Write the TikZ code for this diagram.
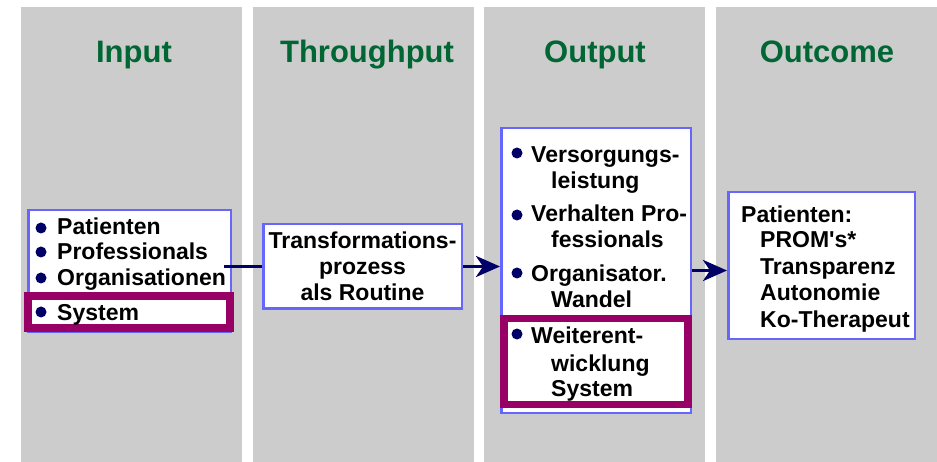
\documentclass[tikz,border=0pt]{standalone}
\usepackage{fontspec}
\setmainfont{Liberation Sans}
\usetikzlibrary{arrows.meta}
\definecolor{colgray}{HTML}{CCCCCC}
\definecolor{titlegreen}{HTML}{006633}
\definecolor{boxblue}{HTML}{6666FF}
\definecolor{hilite}{HTML}{990066}
\definecolor{navy}{HTML}{000066}
\tikzset{
  col/.style={fill=colgray, inner sep=0pt, minimum width=221pt, minimum height=455pt},
  ttl/.style={anchor=base, inner sep=0pt, text=titlegreen, font=\fontsize{31}{31}\selectfont\bfseries},
  bluebox/.style={draw=boxblue, line width=2.5pt, fill=white, inner sep=0pt},
  purplebox/.style={draw=hilite, line width=8pt, inner sep=0pt},
  txt/.style={anchor=base west, inner sep=0pt, font=\fontsize{23}{26}\selectfont\bfseries},
  conn/.style={draw=navy, line width=3.5pt},
  bul/.style={fill=navy, circle, inner sep=0pt, minimum size=11pt}
}
\begin{document}
\begin{tikzpicture}[x=1pt,y=-1pt]
\useasboundingbox (0,0) rectangle (937,462);
% columns
\node[col] (c1) at (131.5,234.5) {};
\node[col] (c2) at (363.5,234.5) {};
\node[col] (c3) at (594.5,234.5) {};
\node[col] (c4) at (826.5,234.5) {};
% titles
\node[ttl] (t1) at (134,63) {Input};
\node[ttl] (t2) at (367,63) {Throughput};
\node[ttl] (t3) at (595,63) {Output};
\node[ttl] (t4) at (827,63) {Outcome};
% boxes
\node[bluebox, minimum width=202.5pt, minimum height=121.5pt] (inbox) at (129.5,271) {};
\node[purplebox, minimum width=202pt, minimum height=32pt] (insys) at (129,312) {};
\node[bluebox, minimum width=198.5pt, minimum height=84.5pt, align=center,
      font=\fontsize{23}{26}\selectfont\bfseries] (tp) at (362.5,266.5)
      {Transformations-\\prozess\\als Routine};
\node[bluebox, minimum width=189.5pt, minimum height=284.5pt] (outbox) at (596,270.5) {};
\node[purplebox, line width=7.5pt, minimum width=184pt, minimum height=86pt] (outsys) at (596,361.5) {};
\node[bluebox, minimum width=186.5pt, minimum height=146.5pt] (outc) at (821.5,265.5) {};
% connectors
\draw[conn] ([xshift=-8pt]inbox.east |- tp.west) -- (tp.west);
\draw[conn, -{Stealth[length=24pt,width=21pt,inset=7pt]}] (tp.east) -- (tp.east -| outbox.west);
\draw[conn, -{Stealth[length=24pt,width=21pt,inset=7pt]}] (outbox.east) -- (outbox.east -| outc.west);
% input list
\node[bul] (bi1) at (41,228) {};
\node[bul] (bi2) at (41,252) {};
\node[bul] (bi3) at (41,278) {};
\node[bul] (bi4) at (41,312) {};
\node[txt] (i1) at (57,235) {Patienten};
\node[txt] (i2) at (57,260) {Professionals};
\node[txt] (i3) at (57,286) {Organisationen};
\node[txt] (i4) at (57,320) {System};
% output list
\node[bul] (bo1) at (517,153) {};
\node[bul] (bo2) at (517,215) {};
\node[bul] (bo3) at (517,273) {};
\node[bul] (bo4) at (517,334) {};
\node[txt] (o1) at (531,163) {Versorgungs-};
\node[txt] (o2) at (551,189) {leistung};
\node[txt] (o3) at (531,222) {Verhalten Pro-};
\node[txt] (o4) at (551,248) {fessionals};
\node[txt] (o5) at (531,282) {Organisator.};
\node[txt] (o6) at (551,308) {Wandel};
\node[txt] (o7) at (531,344) {Weiterent-};
\node[txt] (o8) at (551,371) {wicklung};
\node[txt] (o9) at (551,396) {System};
% outcome list
\node[txt] (r1) at (741,223) {Patienten:};
\node[txt] (r2) at (760,248) {PROM\textquotesingle s*};
\node[txt] (r3) at (760,275) {Transparenz};
\node[txt] (r4) at (760,301) {Autonomie};
\node[txt] (r5) at (760,327) {Ko-Therapeut};
\end{tikzpicture}
\end{document}
